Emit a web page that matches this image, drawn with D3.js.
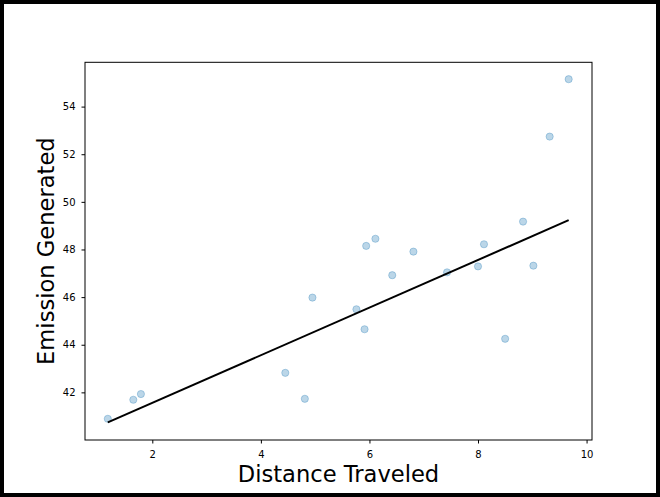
<!DOCTYPE html>
<html>
<head>
<meta charset="utf-8">
<script src="https://cdn.jsdelivr.net/npm/d3@7"></script>
<style>
    body { margin: 0; background: #fff; }
    svg { display: block; }
    .tick text { font-family: "DejaVu Sans", sans-serif; font-size: 10px; fill: #000; }
    .tick line { stroke: #000; stroke-width: 1; }
    .axis-label { font-family: "DejaVu Sans", sans-serif; font-size: 22.6px; fill: #000; }
</style>
</head>
<body>
<script>
var width = 660,
    height = 497;

// data
var distance = [1.18, 1.65, 1.79, 4.45, 4.81, 4.95, 5.76, 5.91, 5.94, 6.11,
                6.42, 6.81, 7.43, 8.00, 8.11, 8.50, 8.83, 9.02, 9.32, 9.67];
var emission = [40.89, 41.69, 41.93, 42.82, 41.73, 45.98, 45.49, 44.65, 48.15, 48.45,
                46.92, 47.91, 47.04, 47.29, 48.22, 44.25, 49.17, 47.32, 52.74, 55.15];

// fitted line, read at its two ends
var fitX = [1.18, 9.67],
    fitY = [40.74, 49.23];

var xTicks = [2, 4, 6, 8, 10],
    yTicks = [42, 44, 46, 48, 50, 52, 54];
// end data

var plot = { left: 85, right: 592, top: 62.3, bottom: 440 };

var xRange = d3.scaleLinear().domain([0.76, 10.10]).range([plot.left, plot.right]),
    yRange = d3.scaleLinear().domain([40.0, 55.86]).range([plot.bottom, plot.top]);

var svg = d3.select("body").append("svg")
    .attr("width", width)
    .attr("height", height);

// figure border
svg.append("rect")
    .attr("width", width)
    .attr("height", height)
    .attr("fill", "#000");

svg.append("rect")
    .attr("x", 4)
    .attr("y", 4)
    .attr("width", width - 8)
    .attr("height", height - 8)
    .attr("fill", "#fff");
// end figure border

// axes
svg.append("g")
    .attr("transform", "translate(0," + plot.bottom + ")")
    .call(d3.axisBottom(xRange).tickValues(xTicks).tickSize(3.5).tickPadding(7.2).tickFormat(d3.format("d")))
    .call(function(g) { g.select(".domain").remove(); });

svg.append("g")
    .attr("transform", "translate(" + plot.left + ",0)")
    .call(d3.axisLeft(yRange).tickValues(yTicks).tickSize(3.5).tickPadding(6).tickFormat(d3.format("d")))
    .call(function(g) { g.select(".domain").remove(); });

svg.selectAll(".tick text").attr("font-family", null).attr("font-size", null);
// end axes

// points
var points = distance.map(function(d, i) { return { x: d, y: emission[i] }; });

svg.append("g")
    .selectAll("circle")
    .data(points)
    .enter().append("circle")
    .attr("cx", function(d) { return xRange(d.x); })
    .attr("cy", function(d) { return yRange(d.y); })
    .attr("r", 3.6)
    .attr("fill", "#1f77b4")
    .attr("fill-opacity", 0.3)
    .attr("stroke", "#1f77b4")
    .attr("stroke-opacity", 0.3)
    .attr("stroke-width", 1);
// end points

// regression line
var line = d3.line()
    .x(function(d, i) { return xRange(d); })
    .y(function(d, i) { return yRange(fitY[i]); });

svg.append("path")
    .datum(fitX)
    .attr("d", line)
    .attr("fill", "none")
    .attr("stroke", "#000")
    .attr("stroke-width", 2);
// end regression line

// frame
svg.append("rect")
    .attr("x", plot.left)
    .attr("y", plot.top)
    .attr("width", plot.right - plot.left)
    .attr("height", plot.bottom - plot.top)
    .attr("fill", "none")
    .attr("stroke", "#000")
    .attr("stroke-width", 1);
// end frame

// labels
svg.append("text")
    .attr("class", "axis-label")
    .attr("x", (plot.left + plot.right) / 2)
    .attr("y", 481.7)
    .attr("text-anchor", "middle")
    .text("Distance Traveled");

svg.append("text")
    .attr("class", "axis-label")
    .attr("transform", "translate(53.5," + (plot.top + plot.bottom) / 2 + ") rotate(-90)")
    .attr("text-anchor", "middle")
    .text("Emission Generated");
// end labels
</script>
</body>
</html>
